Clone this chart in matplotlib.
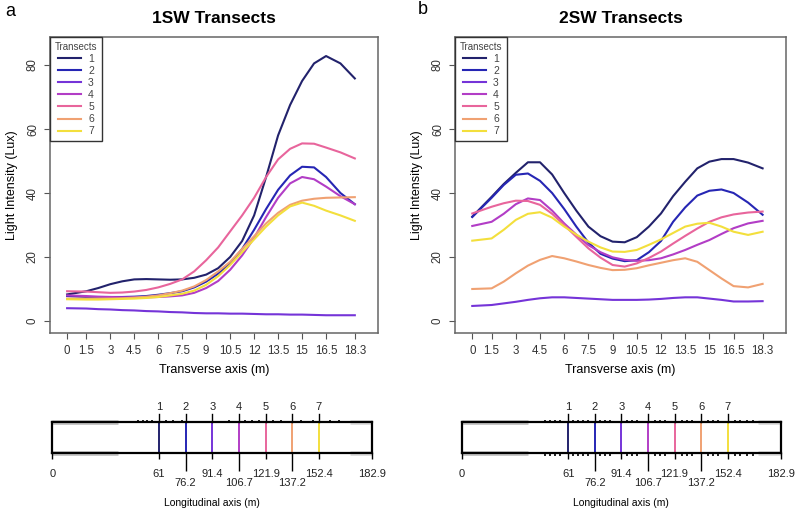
import matplotlib
matplotlib.use("Agg")
from matplotlib import pyplot as plt

plt.rcParams['font.family'] = ['Liberation Sans', 'DejaVu Sans']

# positions along the transverse axis (m)
transverse_m = [0.3, 1.5, 2.25, 3, 3.75, 4.5, 5.25, 6, 6.75, 7.5, 8.25, 9,
                9.75, 10.5, 11.25, 12, 12.75, 13.5, 14.25, 15, 15.75, 16.5, 17.4, 18.3]
x_tick_pos = [0.3, 1.5, 3, 4.5, 6, 7.5, 9, 10.5, 12, 13.5, 15, 16.5, 18.3]
x_tick_labels = ["0", "1.5", "3", "4.5", "6", "7.5", "9", "10.5", "12", "13.5", "15", "16.5", "18.3"]

transect_names = ["1", "2", "3", "4", "5", "6", "7"]
transect_colors = ["#22226c", "#2626b4", "#7534d8", "#b23dc6", "#e8659c", "#f0a172", "#f3df3c"]
longitudinal_m = [61, 76.2, 91.4, 106.7, 121.9, 137.2, 152.4]

# 1SW light intensity (Lux)
sw1_t1 = [8.3, 9.3, 10.3, 11.5, 12.4, 13.0, 13.1, 13.0, 12.9, 13.0, 13.5, 14.5,
          16.5, 20, 25, 33, 45, 58, 67.5, 75, 80.5, 82.8, 80.5, 75.8]
sw1_t2 = [7.8, 7.5, 7.5, 7.5, 7.5, 7.6, 7.8, 8.2, 8.7, 9.3, 10.5, 12.3,
          14.8, 18, 22.5, 28.5, 35, 41, 45.5, 48.2, 48, 45, 40, 36.5]
sw1_t3 = [4.0, 3.9, 3.7, 3.6, 3.4, 3.3, 3.1, 3.0, 2.8, 2.7, 2.5, 2.4,
          2.4, 2.3, 2.3, 2.2, 2.1, 2.1, 2.0, 2.0, 1.9, 1.8, 1.8, 1.8]
sw1_t4 = [8.0, 7.8, 7.6, 7.5, 7.4, 7.4, 7.4, 7.5, 7.7, 8.0, 8.8, 10.3,
          12.5, 16, 20.5, 26, 32.5, 38.5, 43, 45, 44.3, 42, 39, 36.5]
sw1_t5 = [9.3, 9.2, 9.0, 8.8, 8.9, 9.2, 9.7, 10.5, 11.6, 13, 15.5, 19,
          23, 28, 33, 38.5, 45, 50.5, 53.8, 55.5, 55.4, 54.2, 52.7, 50.8]
sw1_t6 = [7.0, 7.0, 7.0, 7.0, 7.1, 7.3, 7.6, 8.0, 8.7, 9.5, 10.8, 12.8,
          15.5, 18.5, 22.5, 26.5, 30.5, 33.8, 36.3, 37.6, 38.2, 38.5, 38.6, 38.7]
sw1_t7 = [6.8, 6.7, 6.7, 6.8, 6.9, 7.0, 7.2, 7.5, 8.0, 8.5, 9.5, 11.3,
          14, 17.5, 21.5, 25.5, 29.5, 33, 35.8, 37, 36, 34.5, 33, 31.3]

# 2SW light intensity (Lux)
sw2_t1 = [32.6, 38.8, 42.8, 46.3, 49.6, 49.6, 45.8, 40, 34.5, 29.5, 26.5, 24.8,
          24.6, 26.2, 29.5, 33.6, 39, 43.5, 47.7, 49.8, 50.6, 50.6, 49.5, 47.7]
sw2_t2 = [32.5, 38.5, 42.5, 45.7, 46.1, 43.8, 40, 35, 29.5, 24.5, 21, 19.5,
          18.7, 19, 21.5, 25, 31, 35.5, 39.2, 40.7, 41.1, 40, 37, 33.2]
sw2_t3 = [4.7, 5.0, 5.5, 6.0, 6.6, 7.1, 7.4, 7.4, 7.2, 7.0, 6.8, 6.6,
          6.6, 6.6, 6.7, 6.9, 7.2, 7.4, 7.4, 7.0, 6.6, 6.1, 6.1, 6.2]
sw2_t4 = [29.7, 31, 33.5, 36.5, 38.3, 37.8, 34.5, 30.5, 27, 23.7, 21.5, 19.9,
          19.1, 18.8, 19, 19.6, 20.8, 22.2, 23.8, 25.3, 27.2, 29, 30.5, 31.3]
sw2_t5 = [33.6, 35.7, 36.8, 37.6, 37.5, 36.3, 33.5, 30, 26.3, 22.7, 19.8, 17.5,
          17.0, 18, 19.7, 21.7, 24.2, 26.6, 28.9, 31, 32.4, 33.3, 33.9, 34.2]
sw2_t6 = [10.0, 10.2, 12.3, 14.9, 17.3, 19.1, 20.3, 19.6, 18.6, 17.5, 16.6, 15.9,
          16, 16.5, 17.4, 18.2, 19.0, 19.6, 18.5, 15.9, 13.3, 10.9, 10.5, 11.6]
sw2_t7 = [25.1, 25.8, 28.5, 31.6, 33.5, 34, 32.3, 29.5, 27, 24.8, 23, 21.7,
          21.6, 22.2, 23.8, 25.5, 27.5, 29.5, 30.4, 30.7, 29.5, 27.9, 26.9, 27.9]

# small marks along the site strip edges (m)
marks_top_a = [49, 52, 54, 57, 65, 69, 74, 101, 110, 114, 118, 126, 131, 142, 149, 159, 164]
marks_bottom_a = []
marks_top_b = [47.7, 50.6, 53.5, 56.3, 64, 66.8, 69.7, 72.5, 79.2, 82.1, 85, 94.5, 97.4,
               100.2, 110.7, 113.6, 116.5, 126, 128.9, 131.7, 141.3, 144.1, 147,
               156.5, 159.4, 163.2, 167]
marks_bottom_b = marks_top_b

W, H = 800, 517


def px_rect(x0, y0, x1, y1):
    return [x0 / W, 1 - y1 / H, (x1 - x0) / W, (y1 - y0) / H]


def draw_main(fig, rect, title, series):
    ax = fig.add_axes(rect)
    lines = []
    for vals, c, name in zip(series, transect_colors, transect_names):
        ln, = ax.plot(transverse_m, vals, color=c, lw=1.5, label=name,
                      solid_joinstyle='round')
        lines.append(ln)
    ax.set_xlim(-0.77, 19.75)
    ax.set_ylim(-3.75, 88.75)
    ax.set_xticks(x_tick_pos, x_tick_labels)
    ax.set_yticks([0, 20, 40, 60, 80], ["0", "20", "40", "60", "80"], rotation=90, va='center')
    ax.tick_params(length=4, width=0.8, color='#555555', labelsize=8.3, labelcolor='#333333')
    ax.tick_params(axis='x', pad=5)
    ax.tick_params(axis='y', pad=4)
    for s in ax.spines.values():
        s.set_color('#666666')
        s.set_linewidth(1.1)
    ax.set_title(title, fontsize=12.5, fontweight='bold', pad=10)
    ax.set_xlabel("Transverse axis (m)", fontsize=9)
    ax.xaxis.set_label_coords(0.5, -0.105)
    ax.set_ylabel("Light Intensity (Lux)", fontsize=9)
    ax.yaxis.set_label_coords(-0.098, 0.5)
    leg = ax.legend(handles=lines, loc='upper left', bbox_to_anchor=(0, 1), borderaxespad=0,
                    title="Transects", fontsize=7.5, title_fontsize=7, fancybox=False,
                    edgecolor='#333333', framealpha=1, labelspacing=0.2, handlelength=2.2,
                    handletextpad=0.7, borderpad=0.45)
    leg.get_frame().set_linewidth(1)
    for t in leg.get_texts():
        t.set_color('#444444')
    leg.get_title().set_color('#444444')
    return ax


def draw_strip(fig, rect, marks_top, marks_bottom):
    bx = fig.add_axes(rect)
    bx.set_xlim(0, 182.9)
    bx.set_ylim(0, 1)
    bx.set_yticks([])
    for s in bx.spines.values():
        s.set_color('black')
        s.set_linewidth(1.6)
    # faded edges of the site strip
    bx.plot([0, 37.7], [1, 1], color='#c4c4c4', lw=3.5, solid_capstyle='butt', clip_on=False, zorder=1)
    bx.plot([0, 37.7], [0, 0], color='#c4c4c4', lw=3.5, solid_capstyle='butt', clip_on=False, zorder=1)
    bx.plot([170, 182.9], [1, 1], color='#dcdcdc', lw=3.5, solid_capstyle='butt', clip_on=False, zorder=1)
    bx.plot([170, 182.9], [0, 0], color='#dcdcdc', lw=3.5, solid_capstyle='butt', clip_on=False, zorder=1)
    bx.vlines(marks_top, 1, 1.09, color='#222222', lw=1.4, clip_on=False)
    if marks_bottom:
        bx.vlines(marks_bottom, -0.09, 0, color='#222222', lw=1.4, clip_on=False)
    for pos, c, name in zip(longitudinal_m, transect_colors, transect_names):
        bx.plot([pos, pos], [0, 1], color=c, lw=1.4)
        bx.plot([pos, pos], [1, 1.26], color='black', lw=1, clip_on=False)
        bx.text(pos, 1.5, name, ha='center', va='center', fontsize=8, color='#222222')
    major = [0, 61, 91.4, 121.9, 152.4, 182.9]
    minor = [76.2, 106.7, 137.2]
    bx.set_xticks(major, [f"{v:g}" for v in major])
    bx.set_xticks(minor, [f"{v:g}" for v in minor], minor=True)
    bx.tick_params(which='major', length=4, width=1, pad=7, labelsize=8, labelcolor='#222222')
    bx.tick_params(which='minor', length=13, width=1, pad=5, labelsize=8, labelcolor='#222222')
    bx.set_xlabel("Longitudinal axis (m)", fontsize=7.5)
    bx.xaxis.set_label_coords(0.5, -1.45)
    return bx


fig = plt.figure(figsize=(8, 5.17), dpi=100)

draw_main(fig, px_rect(50, 37, 378, 333), "1SW Transects",
          [sw1_t1, sw1_t2, sw1_t3, sw1_t4, sw1_t5, sw1_t6, sw1_t7])
draw_main(fig, px_rect(455, 37, 786, 333), "2SW Transects",
          [sw2_t1, sw2_t2, sw2_t3, sw2_t4, sw2_t5, sw2_t6, sw2_t7])
draw_strip(fig, px_rect(52.3, 422.3, 372.3, 453.3), marks_top_a, marks_bottom_a)
draw_strip(fig, px_rect(461.7, 422.3, 781, 453.3), marks_top_b, marks_bottom_b)

fig.text(10 / W, 1 - 12 / H, "a", fontsize=13, ha='center', va='center')
fig.text(423 / W, 1 - 9 / H, "b", fontsize=13, ha='center', va='center')

fig.savefig("out.png", dpi=100)
